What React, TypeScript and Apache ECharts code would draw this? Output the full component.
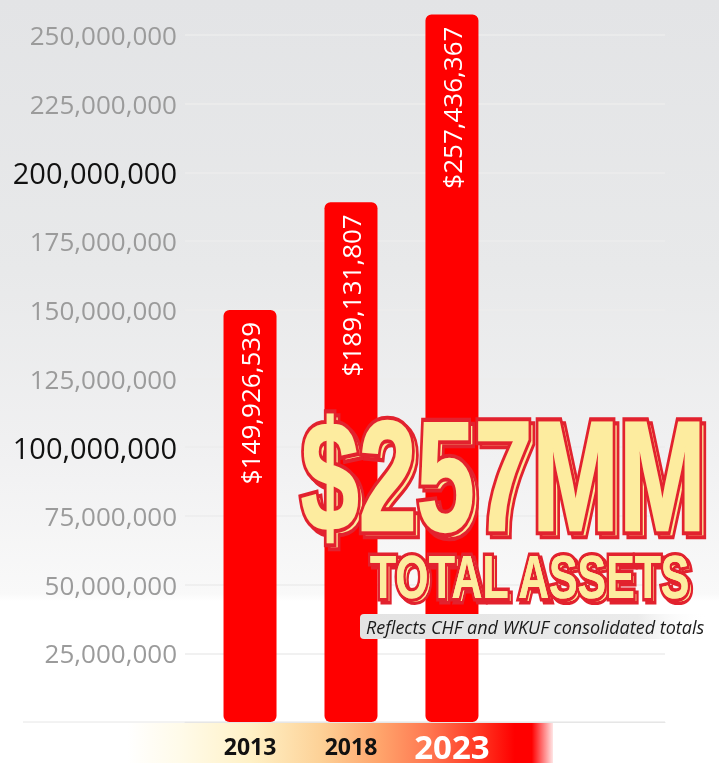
import React, { useEffect, useRef } from 'react';
import * as echarts from 'echarts';

const years = [2013, 2018, 2023];
const totalAssets = [149926539, 189131807, 257436367];
const highlightYear = 2023;
const emphasisTicks = [100000000, 200000000];
const yMax = 250000000;
const yStep = 25000000;
const headline = '$257MM';
const subhead = 'TOTAL ASSETS';
const note = 'Reflects CHF and WKUF consolidated totals';

const RED = '#e2222e';
const YELLOW = '#fdec9f';

function layeredText(
  text: string,
  x: number,
  y: number,
  fontSize: number,
  scaleY: number,
  off: number,
  outline: number,
  fatten: number
) {
  const base = { type: 'text', silent: true, scaleY };
  const font = {
    text,
    fontSize,
    fontWeight: 'bold',
    fontFamily: 'Liberation Sans, Arial, sans-serif',
    textAlign: 'left',
    textVerticalAlign: 'middle',
  };
  const inner = fatten > 0 ? { stroke: YELLOW, lineWidth: fatten } : {};
  return [
    { ...base, x: x + off, y: y + off, z: 100, style: { ...font, fill: YELLOW, stroke: RED, lineWidth: outline } },
    { ...base, x: x + off, y: y + off, z: 101, style: { ...font, fill: YELLOW, ...inner } },
    { ...base, x, y, z: 102, style: { ...font, fill: YELLOW, stroke: RED, lineWidth: outline } },
    { ...base, x, y, z: 103, style: { ...font, fill: YELLOW, ...inner } },
  ];
}

export default function App() {
  const ref = useRef<HTMLDivElement>(null);
  useEffect(() => {
    const chart = echarts.init(ref.current!, null, { renderer: 'svg' });
    const fmt = (v: number) => v.toLocaleString('en-US');
    const option: any = {
      animation: false,
      grid: { left: 185, right: 54, top: 35, bottom: 49, containLabel: false },
      xAxis: {
        type: 'value',
        min: 2009.78,
        max: 2033.55,
        axisLine: { show: true, lineStyle: { color: '#e6e6e6', width: 1 } },
        axisTick: { show: false },
        splitLine: { show: false },
        axisLabel: {
          customValues: years,
          margin: 9,
          formatter: (v: number) => (v === highlightYear ? `{hi|${v}}` : `{lo|${v}}`),
          rich: {
            lo: { fontFamily: 'Open Sans', fontWeight: 'bold', fontSize: 23, color: '#111', lineHeight: 30 },
            hi: { fontFamily: 'Open Sans', fontWeight: 'bold', fontSize: 33, color: '#fff', lineHeight: 30 },
          },
        },
      },
      yAxis: {
        type: 'value',
        min: 0,
        max: yMax,
        interval: yStep,
        axisLine: { show: false },
        axisTick: { show: false },
        splitLine: { lineStyle: { color: '#ececec', width: 1.5 } },
        axisLabel: {
          margin: 8,
          formatter: (v: number) => {
            if (v === 0) return '';
            return emphasisTicks.includes(v) ? `{b|${fmt(v)}}` : `{g|${fmt(v)}}`;
          },
          rich: {
            g: { fontFamily: 'Open Sans', fontSize: 26, color: '#9b9b9b' },
            b: { fontFamily: 'Open Sans', fontSize: 29, color: '#111' },
          },
        },
      },
      series: [
        {
          type: 'bar',
          clip: false,
          barWidth: 53,
          data: years.map((y, i) => [y, totalAssets[i]]),
          itemStyle: { color: '#ff0000', borderRadius: 6 },
          label: {
            show: true,
            position: 'insideTop',
            rotate: 90,
            align: 'right',
            verticalAlign: 'middle',
            distance: 12,
            color: '#fff',
            fontFamily: 'Open Sans',
            fontSize: 26,
            formatter: (p: any) => '$' + fmt(p.value[1]),
          },
          z: 2,
        },
      ],
      graphic: [
        {
          type: 'rect',
          silent: true,
          z: -100,
          shape: { x: 0, y: 0, width: 719, height: 771 },
          style: {
            fill: new echarts.graphic.LinearGradient(0, 0, 0, 1, [
              { offset: 0, color: '#e3e4e6' },
              { offset: 0.35, color: '#e8e9ea' },
              { offset: 0.6, color: '#f1f1f2' },
              { offset: 0.77, color: '#f9f9f9' },
              { offset: 0.78, color: '#ffffff' },
              { offset: 1, color: '#ffffff' },
            ]),
          },
        },
        {
          type: 'line',
          silent: true,
          z: -50,
          shape: { x1: 23, y1: 722, x2: 185, y2: 722 },
          style: { stroke: '#e6e6e6', lineWidth: 1 },
        },
        {
          type: 'rect',
          silent: true,
          z: -50,
          shape: { x: 128, y: 723, width: 425, height: 40 },
          style: {
            fill: new echarts.graphic.LinearGradient(0, 0, 1, 0, [
              { offset: 0, color: 'rgba(255,250,232,0)' },
              { offset: 0.12, color: '#fffbea' },
              { offset: 0.29, color: '#fff1c6' },
              { offset: 0.45, color: '#fdd298' },
              { offset: 0.59, color: '#ffa56c' },
              { offset: 0.71, color: '#ff7650' },
              { offset: 0.83, color: '#ff3420' },
              { offset: 0.91, color: '#ff0000' },
              { offset: 0.95, color: '#ff0000' },
              { offset: 1, color: 'rgba(255,0,0,0.1)' },
            ]),
          },
        },
        {
          type: 'rect',
          silent: true,
          z: 100,
          shape: { x: 360, y: 614, width: 347, height: 25, r: 4 },
          style: {
            fill: new echarts.graphic.LinearGradient(0, 0, 1, 0, [
              { offset: 0, color: '#e3e3e3' },
              { offset: 0.8, color: '#ebebeb' },
              { offset: 1, color: 'rgba(255,255,255,0)' },
            ]),
          },
        },
        {
          type: 'text',
          silent: true,
          z: 101,
          x: 366,
          y: 626.5,
          style: {
            text: note,
            fontFamily: 'Open Sans',
            fontStyle: 'italic',
            fontSize: 18,
            fill: '#1a1a1a',
            textAlign: 'left',
            textVerticalAlign: 'middle',
          },
        },
        ...layeredText(headline, 301, 476, 104, 1.5, 4, 7, 1.5),
        ...layeredText(subhead, 370, 577, 42.8, 1.42, 3, 5, 0),
      ],
    };
    chart.setOption(option);
    return () => chart.dispose();
  }, []);
  return <div ref={ref} style={{ position: 'fixed', left: 0, top: 0, width: 719, height: 771 }} />;
}
